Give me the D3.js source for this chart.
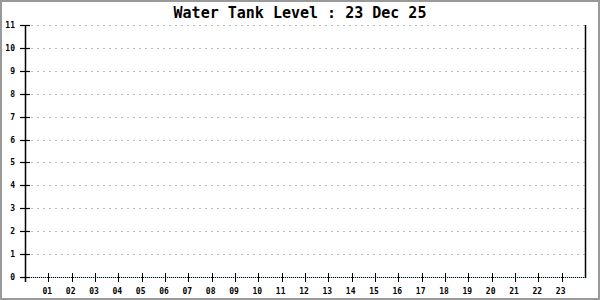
<!DOCTYPE html>
<meta charset="utf-8">
<style>
  body { margin: 0; background: #fff; }
  svg { display: block; }
  .title { font-family: "DejaVu Sans Mono", monospace; font-weight: bold; font-size: 15px; }
  .lbl { font-family: "DejaVu Sans Mono", monospace; font-weight: bold; font-size: 8px; fill: #000; }
</style>
<body>
<script src="https://cdn.jsdelivr.net/npm/d3@7/dist/d3.min.js"></script>
<script>
// chart data
var title = "Water Tank Level : 23 Dec 25";
var hours = [1,2,3,4,5,6,7,8,9,10,11,12,13,14,15,16,17,18,19,20,21,22,23];
var levelTicks = [0,1,2,3,4,5,6,7,8,9,10,11];
var levels = [];   // no readings logged yet

var width = 600, height = 300;
var margin = {top: 25, right: 15, bottom: 23, left: 25};

var svg = d3.select("body").append("svg")
    .attr("width", width)
    .attr("height", height);

// outer frame
svg.append("rect")
    .attr("x", 1).attr("y", 1)
    .attr("width", width - 2).attr("height", height - 2)
    .attr("fill", "#fff")
    .attr("stroke", "#999")
    .attr("stroke-width", 2);

var x = d3.scaleLinear().domain([0, 24]).range([margin.left, width - margin.right]);
var y = d3.scaleLinear().domain([0, 11]).range([height - margin.bottom, margin.top]);

svg.append("text")
    .attr("class", "title")
    .attr("x", width / 2)
    .attr("y", 18)
    .attr("text-anchor", "middle")
    .text(title);

// dashed grid
svg.append("g")
  .selectAll("line")
    .data(levelTicks.filter(function(d) { return d > 0; }))
  .enter().append("line")
    .attr("x1", x(0)).attr("x2", x(24))
    .attr("y1", function(d) { return Math.round(y(d)) + 0.5; })
    .attr("y2", function(d) { return Math.round(y(d)) + 0.5; })
    .attr("stroke", "#bbb")
    .attr("stroke-dasharray", "2,4");

// baseline, dotted black over light blue
var y0 = Math.round(y(0)) + 0.5;
svg.append("line")
    .attr("x1", x(0)).attr("x2", x(24)).attr("y1", y0).attr("y2", y0)
    .attr("stroke", "#add8e6");
svg.append("line")
    .attr("x1", x(0)).attr("x2", x(24)).attr("y1", y0).attr("y2", y0)
    .attr("stroke", "#000")
    .attr("stroke-dasharray", "1,1");

// y axis (left) with ticks crossing the line
var yAxis = svg.append("g");
yAxis.append("line")
    .attr("x1", Math.round(x(0)) + 0.5).attr("x2", Math.round(x(0)) + 0.5)
    .attr("y1", y(11)).attr("y2", y(0) + 5)
    .attr("stroke", "#000").attr("stroke-width", 1.5);
yAxis.selectAll(".tk")
    .data(levelTicks)
  .enter().append("line")
    .attr("x1", x(0) - 5).attr("x2", x(0) + 5)
    .attr("y1", function(d) { return Math.round(y(d)) + 0.5; })
    .attr("y2", function(d) { return Math.round(y(d)) + 0.5; })
    .attr("stroke", "#000").attr("stroke-width", 1.2);
yAxis.selectAll("text")
    .data(levelTicks)
  .enter().append("text")
    .attr("class", "lbl")
    .attr("x", 15)
    .attr("y", function(d) { return y(d) + 3; })
    .attr("text-anchor", "end")
    .text(function(d) { return d; });

// right border axis
svg.append("line")
    .attr("x1", Math.round(x(24)) + 0.5).attr("x2", Math.round(x(24)) + 0.5)
    .attr("y1", y(11)).attr("y2", y(0) + 1)
    .attr("stroke", "#000").attr("stroke-width", 1.5);

// x ticks and hour labels
var xAxis = svg.append("g");
xAxis.selectAll("line")
    .data(hours)
  .enter().append("line")
    .attr("x1", function(d) { return Math.round(x(d)) + 0.5; })
    .attr("x2", function(d) { return Math.round(x(d)) + 0.5; })
    .attr("y1", y(0) - 4).attr("y2", y(0) + 5)
    .attr("stroke", "#000");
xAxis.selectAll("text")
    .data(hours)
  .enter().append("text")
    .attr("class", "lbl")
    .attr("x", function(d) { return x(d) - 1; })
    .attr("y", y(0) + 17)
    .attr("text-anchor", "middle")
    .text(d3.format("02d"));

// level line (empty until readings arrive)
svg.append("path")
    .datum(levels)
    .attr("fill", "none")
    .attr("stroke", "#4a90d9")
    .attr("d", d3.line()
        .x(function(d) { return x(d.hour); })
        .y(function(d) { return y(d.level); }));
</script>
</body>
